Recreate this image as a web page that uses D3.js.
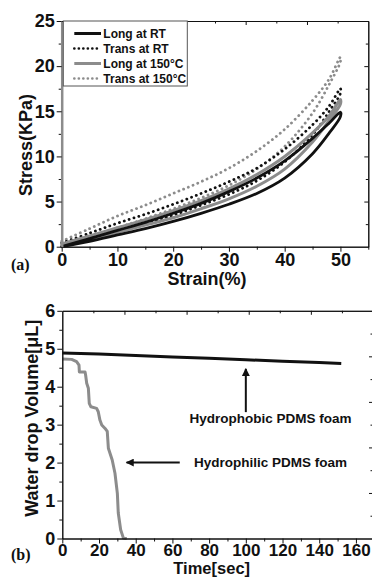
<!DOCTYPE html>
<html>
<head>
<meta charset="utf-8">
<title>PDMS foam</title>
<script src="https://d3js.org/d3.v7.min.js"></script>
<style>
  body{ margin:0; background:#fff; }
  svg{ display:block; }
</style>
</head>
<body>
<svg id="chart" width="372" height="578"></svg>
<script>
// ### panel (a) : stress-strain loops ###
var strain = [0, 5, 10, 15, 20, 25, 30, 35, 40, 45, 48, 50];
var longRTLoad     = [0.0, 0.9, 1.8, 2.7, 3.7, 4.8, 6.1, 7.6, 9.5, 12.0, 13.7, 14.9];
var longRTUnload   = [0.0, 0.6, 1.3, 2.0, 2.8, 3.7, 4.7, 5.9, 7.6, 10.3, 12.6, 14.4];
var transRTLoad    = [0.4, 1.5, 2.6, 3.6, 4.7, 5.9, 7.2, 8.7, 10.8, 13.5, 15.6, 17.5];
var transRTUnload  = [0.2, 0.9, 1.7, 2.6, 3.5, 4.6, 5.8, 7.3, 9.4, 12.4, 15.0, 17.0];
var long150Load    = [0.3, 1.2, 2.1, 3.0, 4.0, 5.1, 6.4, 8.0, 10.0, 12.6, 14.5, 16.3];
var long150Unload  = [0.2, 0.8, 1.6, 2.4, 3.2, 4.2, 5.3, 6.7, 8.6, 11.6, 14.0, 15.8];
var trans150Load   = [0.6, 2.0, 3.4, 4.6, 5.9, 7.2, 8.7, 10.6, 13.0, 16.2, 18.6, 21.0];
var trans150Unload = [0.4, 1.1, 2.1, 3.1, 4.2, 5.4, 6.8, 8.6, 11.1, 14.8, 18.0, 20.5];
var legendLabels = ["Long at RT", "Trans at RT", "Long at 150°C", "Trans at 150°C"];
var strainTicks = [0, 10, 20, 30, 40, 50];
var stressTicks = [0, 5, 10, 15, 20, 25];

// ### panel (b) : water drop volume ###
var timePhobic = [0, 20, 40, 60, 80, 100, 120, 140, 152];
var volPhobic  = [4.89, 4.86, 4.82, 4.78, 4.75, 4.71, 4.67, 4.64, 4.61];
var timePhilic = [0, 5.1, 7.8, 9.1, 9.3, 10.6, 12.4, 12.7, 13.3, 14.2, 14.7, 15.6, 18.7, 19.6,
                  20.5, 21.5, 23.3, 24.5, 25.1, 27.2, 28.7, 30.0, 30.5, 31.8, 33.3, 35.1];
var volPhilic  = [4.73, 4.72, 4.66, 4.57, 4.39, 4.39, 4.39, 4.31, 4.09, 3.96, 3.56, 3.47, 3.43, 3.34,
                  3.12, 2.99, 2.90, 2.82, 2.38, 2.07, 1.72, 1.19, 0.67, 0.23, 0.01, 0];
var timeTicks = [0, 20, 40, 60, 80, 100, 120, 140, 160];
var volTicks = [0, 1, 2, 3, 4, 5, 6];

var SANS = "'Liberation Sans', Arial, sans-serif";
var SERIF = "'Liberation Serif', 'Times New Roman', serif";
var GRAY = "#8c8c8c", INK = "#111";
var fmt = d3.format("d");

var svg = d3.select("#chart");

function tickText(sel, size) {
  sel.selectAll("text")
    .attr("font-family", SANS).attr("font-weight", "bold")
    .attr("font-size", size).attr("fill", INK);
  sel.selectAll("line").attr("stroke", INK);
  sel.select(".domain").attr("stroke", INK);
}
function blank() { return ""; }

// ---------- panel (a) ----------
var xA = d3.scaleLinear().domain([0, 55]).range([61.7, 368.3]);
var yA = d3.scaleLinear().domain([0, 25]).range([246.7, 21]);
var tA = d3.scaleLinear().domain([0, 10]).range([61.7, 368.3]);   // top frame ticks

var lineA = d3.line()
    .x(function(d) { return xA(d[0]); })
    .y(function(d) { return yA(d[1]); })
    .curve(d3.curveCatmullRom);

function loop(load, unload) {
  var up = load.map(function(v, i) { return [strain[i], v]; });
  var down = unload.map(function(v, i) { return [strain[i], v]; }).reverse();
  return up.concat(down);
}

var series = [
  {data: loop(trans150Load, trans150Unload), color: GRAY, dash: "0.1 5", w: 2.8},
  {data: loop(transRTLoad, transRTUnload),   color: INK,  dash: "0.1 5", w: 2.8},
  {data: loop(long150Load, long150Unload),   color: GRAY, dash: null,    w: 3},
  {data: loop(longRTLoad, longRTUnload),     color: INK,  dash: null,    w: 2.8}
];
svg.append("g").selectAll("path").data(series).join("path")
    .attr("fill", "none")
    .attr("stroke", function(d) { return d.color; })
    .attr("stroke-width", function(d) { return d.w; })
    .attr("stroke-dasharray", function(d) { return d.dash; })
    .attr("stroke-linecap", "round")
    .attr("stroke-linejoin", "round")
    .attr("d", function(d) { return lineA(d.data); });

var ga = svg.append("g");
ga.append("g").attr("transform", "translate(0," + yA(0) + ")")
    .call(d3.axisBottom(xA).tickValues(d3.range(5, 56, 10)).tickFormat(blank).tickSize(3).tickSizeOuter(0))
    .call(tickText, 18);
ga.append("g").attr("transform", "translate(0," + yA(0) + ")")
    .call(d3.axisBottom(xA).tickValues(strainTicks).tickFormat(fmt).tickSize(5).tickSizeOuter(0).tickPadding(1.6))
    .call(tickText, 18);
ga.append("g").attr("transform", "translate(" + xA(0) + ",0)")
    .call(d3.axisLeft(yA).tickValues(d3.range(2.5, 25, 5)).tickFormat(blank).tickSize(3).tickSizeOuter(0))
    .call(tickText, 18);
ga.append("g").attr("transform", "translate(" + xA(0) + ",0)")
    .call(d3.axisLeft(yA).tickValues(stressTicks).tickFormat(fmt).tickSize(5).tickSizeOuter(0).tickPadding(2))
    .call(tickText, 18)
    .call(function(g) { g.select(".domain").attr("stroke", GRAY).attr("stroke-width", 2.5); });
// frame ticks (inward)
ga.append("g").attr("transform", "translate(0," + yA(25) + ")")
    .call(d3.axisTop(tA).tickValues(d3.range(1, 10, 2)).tickFormat(blank).tickSize(-2.5).tickSizeOuter(0))
    .call(tickText, 18);
ga.append("g").attr("transform", "translate(0," + yA(25) + ")")
    .call(d3.axisTop(tA).tickValues([2, 4, 6, 8]).tickFormat(blank).tickSize(-4).tickSizeOuter(0))
    .call(tickText, 18);
ga.append("g").attr("transform", "translate(" + xA(55) + ",0)")
    .call(d3.axisRight(yA).tickValues(d3.range(2.5, 25, 5)).tickFormat(blank).tickSize(-2.5).tickSizeOuter(0))
    .call(tickText, 18);
ga.append("g").attr("transform", "translate(" + xA(55) + ",0)")
    .call(d3.axisRight(yA).tickValues([5, 10, 15, 20]).tickFormat(blank).tickSize(-4).tickSizeOuter(0))
    .call(tickText, 18);

// legend
var leg = svg.append("g");
leg.append("rect")
    .attr("x", 63.3).attr("y", yA(25)).attr("width", 124).attr("height", 65)
    .attr("fill", "#fff").attr("stroke", "#555").attr("stroke-width", 1);
var legItems = leg.selectAll("g.item").data(legendLabels).join("g")
    .attr("class", "item")
    .attr("transform", function(d, i) { return "translate(0," + (33.5 + i * 15) + ")"; });
legItems.append("line")
    .attr("x1", 74.3).attr("x2", 101)
    .attr("stroke", function(d, i) { return i < 2 ? INK : GRAY; })
    .attr("stroke-width", function(d, i) { return i % 2 ? 2.6 : 3; })
    .attr("stroke-dasharray", function(d, i) { return i % 2 ? "0.1 4.4" : null; })
    .attr("stroke-linecap", function(d, i) { return i % 2 ? "round" : "butt"; });
legItems.append("text")
    .attr("x", 103.3).attr("dy", "0.36em")
    .attr("font-family", SANS).attr("font-weight", "bold").attr("font-size", 12)
    .attr("fill", INK)
    .text(function(d) { return d; });

svg.append("text").attr("x", 207).attr("y", 284.5).attr("text-anchor", "middle")
    .attr("font-family", SANS).attr("font-weight", "bold").attr("font-size", 18).attr("fill", INK)
    .text("Strain(%)");
svg.append("text").attr("transform", "translate(32,145) rotate(-90)").attr("text-anchor", "middle")
    .attr("font-family", SANS).attr("font-weight", "bold").attr("font-size", 18).attr("fill", INK)
    .text("Stress(KPa)");
svg.append("text").attr("x", 11).attr("y", 269.5)
    .attr("font-family", SERIF).attr("font-weight", "bold").attr("font-size", 16).attr("fill", INK)
    .text("(a)");

// ---------- panel (b) ----------
var xB = d3.scaleLinear().domain([0, 169.3]).range([62.3, 373]);
var yB = d3.scaleLinear().domain([0, 6]).range([538.5, 310.8]);
var tB = d3.scaleLinear().domain([0, 10]).range([62.3, 373]);    // top frame ticks
var rB = d3.scaleLinear().domain([0, 5]).range([538.5, 310.8]);  // right frame ticks

var lineB = d3.line()
    .x(function(d) { return xB(d[0]); })
    .y(function(d) { return yB(d[1]); });

svg.append("path")
    .datum(timePhilic.map(function(t, i) { return [t, volPhilic[i]]; }))
    .attr("fill", "none").attr("stroke", GRAY).attr("stroke-width", 3)
    .attr("stroke-linejoin", "round")
    .attr("d", lineB);
svg.append("path")
    .datum(timePhobic.map(function(t, i) { return [t, volPhobic[i]]; }))
    .attr("fill", "none").attr("stroke", INK).attr("stroke-width", 3)
    .attr("stroke-linejoin", "round")
    .attr("d", lineB);

var gb = svg.append("g");
gb.append("g").attr("transform", "translate(0," + yB(0) + ")")
    .call(d3.axisBottom(xB).tickValues(d3.range(10, 170, 20)).tickFormat(blank).tickSize(3).tickSizeOuter(0))
    .call(tickText, 17);
gb.append("g").attr("transform", "translate(0," + yB(0) + ")")
    .call(d3.axisBottom(xB).tickValues(timeTicks).tickFormat(fmt).tickSize(5).tickSizeOuter(0).tickPadding(0.5))
    .call(tickText, 17);
gb.append("g").attr("transform", "translate(" + xB(0) + ",0)")
    .call(d3.axisLeft(yB).tickValues(d3.range(0.5, 6, 1)).tickFormat(blank).tickSize(3).tickSizeOuter(0))
    .call(tickText, 18);
gb.append("g").attr("transform", "translate(" + xB(0) + ",0)")
    .call(d3.axisLeft(yB).tickValues(volTicks).tickFormat(fmt).tickSize(5).tickSizeOuter(0).tickPadding(2))
    .call(tickText, 18);
gb.append("g").attr("transform", "translate(0," + yB(6) + ")")
    .call(d3.axisTop(tB).tickValues(d3.range(1, 10, 2)).tickFormat(blank).tickSize(-2.5).tickSizeOuter(0))
    .call(tickText, 18);
gb.append("g").attr("transform", "translate(0," + yB(6) + ")")
    .call(d3.axisTop(tB).tickValues([2, 4, 6, 8]).tickFormat(blank).tickSize(-4).tickSizeOuter(0))
    .call(tickText, 18);
gb.append("g").attr("transform", "translate(" + xB(169.3) + ",0)")
    .call(d3.axisRight(rB).tickValues(d3.range(0.5, 5, 1)).tickFormat(blank).tickSize(-2.5).tickSizeOuter(0))
    .call(tickText, 18);
gb.append("g").attr("transform", "translate(" + xB(169.3) + ",0)")
    .call(d3.axisRight(rB).tickValues([1, 2, 3, 4]).tickFormat(blank).tickSize(-4).tickSizeOuter(0))
    .call(tickText, 18);

// arrows
svg.append("defs").append("marker")
    .attr("id", "head").attr("viewBox", "0 0 10 10")
    .attr("refX", 9).attr("refY", 5)
    .attr("markerWidth", 4.5).attr("markerHeight", 4)
    .attr("markerUnits", "strokeWidth")
    .attr("orient", "auto")
  .append("path").attr("d", "M0,0L10,5L0,10Z").attr("fill", INK);
svg.append("line")
    .attr("x1", xB(100)).attr("y1", yB(3.33)).attr("x2", xB(100)).attr("y2", yB(4.47))
    .attr("stroke", INK).attr("stroke-width", 2).attr("marker-end", "url(#head)");
svg.append("line")
    .attr("x1", xB(64)).attr("y1", yB(2)).attr("x2", xB(35)).attr("y2", yB(2))
    .attr("stroke", INK).attr("stroke-width", 2).attr("marker-end", "url(#head)");

svg.append("text").attr("x", 270.5).attr("y", 423.3).attr("text-anchor", "middle")
    .attr("font-family", SANS).attr("font-weight", "bold").attr("font-size", 13.5).attr("fill", INK)
    .text("Hydrophobic PDMS foam");
svg.append("text").attr("x", 270.5).attr("y", 466.7).attr("text-anchor", "middle")
    .attr("font-family", SANS).attr("font-weight", "bold").attr("font-size", 13.5).attr("fill", INK)
    .text("Hydrophilic PDMS foam");

svg.append("text").attr("x", 211.7).attr("y", 574.2).attr("text-anchor", "middle")
    .attr("font-family", SANS).attr("font-weight", "bold").attr("font-size", 16.5).attr("fill", INK)
    .text("Time[sec]");
svg.append("text").attr("transform", "translate(38,418.3) rotate(-90)").attr("text-anchor", "middle")
    .attr("font-family", SANS).attr("font-weight", "bold").attr("font-size", 18).attr("fill", INK)
    .text("Water drop Volume[μL]");
svg.append("text").attr("x", 11).attr("y", 560)
    .attr("font-family", SERIF).attr("font-weight", "bold").attr("font-size", 16).attr("fill", INK)
    .text("(b)");
</script>
</body>
</html>
